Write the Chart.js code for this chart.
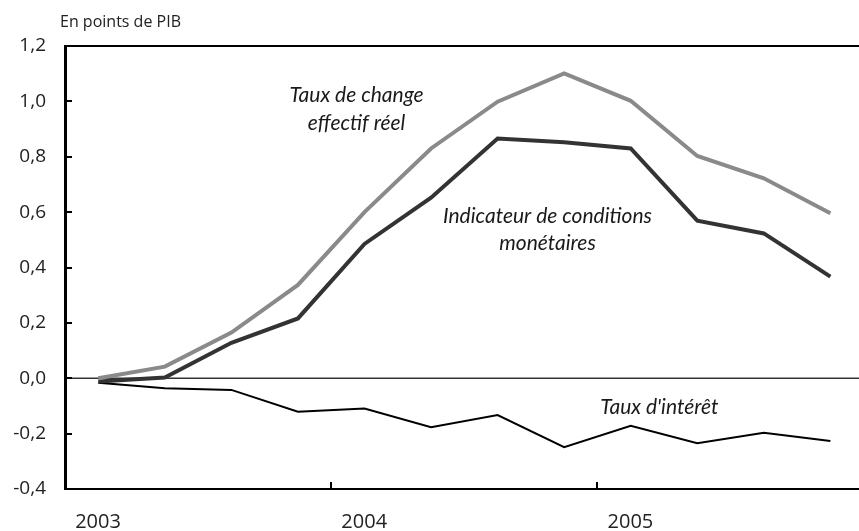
<!DOCTYPE html>
<html>
<head>
<meta charset="utf-8">
<script src="https://cdn.jsdelivr.net/npm/chart.js@4/dist/chart.umd.min.js"></script>
<style>
  html, body { margin: 0; padding: 0; background: #fff; }
  #wrap { width: 859px; height: 531px; position: relative; }
</style>
</head>
<body>
<div id="wrap"><canvas id="c" width="859" height="531"></canvas></div>
<script>
// ---- Data ----
const categories = ['2003 T1','2003 T2','2003 T3','2003 T4',
                    '2004 T1','2004 T2','2004 T3','2004 T4',
                    '2005 T1','2005 T2','2005 T3','2005 T4'];
const yearLabels = ['2003','2004','2005'];
const tauxDeChange = [0.00, 0.042, 0.165, 0.337, 0.600, 0.830, 0.999, 1.101, 1.002, 0.803, 0.722, 0.596];
const icm          = [-0.012, 0.003, 0.128, 0.216, 0.485, 0.652, 0.866, 0.852, 0.830, 0.569, 0.523, 0.367];
const tauxInteret  = [-0.016, -0.036, -0.042, -0.121, -0.109, -0.177, -0.133, -0.249, -0.172, -0.235, -0.197, -0.227];
const yTickValues  = [-0.4, -0.2, 0.0, 0.2, 0.4, 0.6, 0.8, 1.0, 1.2];
const unitLabel = 'En points de PIB';
const annotations = [
  { lines: ['Taux de change', 'effectif réel'], x: 3.88, y: [1.023, 0.922] },
  { lines: ['Indicateur de conditions', 'monétaires'], x: 6.75, y: [0.586, 0.489] },
  { lines: ["Taux d'intérêt"], x: 8.43, y: [-0.104] }
];

// year boundaries (before first quarter of each year) on the index axis
const yearTickValues = categories
  .map((c, i) => c.endsWith('T1') ? i - 0.5 : null)
  .filter(v => v !== null);

const toPoints = arr => arr.map((v, i) => ({ x: i, y: v }));

const decorPlugin = {
  id: 'decor',
  beforeDatasetsDraw(chart) {
    const { ctx, chartArea, scales } = chart;
    const y0 = scales.y.getPixelForValue(0);
    ctx.save();
    ctx.strokeStyle = '#333';
    ctx.lineWidth = 1.5;
    ctx.beginPath();
    ctx.moveTo(chartArea.left, y0);
    ctx.lineTo(chartArea.right, y0);
    ctx.stroke();
    ctx.restore();
  },
  afterDraw(chart) {
    const { ctx, chartArea, scales } = chart;
    ctx.save();
    // top frame line
    ctx.strokeStyle = '#000';
    ctx.lineWidth = 2;
    const yt = scales.y.getPixelForValue(scales.y.max);
    ctx.beginPath();
    ctx.moveTo(chartArea.left, yt);
    ctx.lineTo(chartArea.right, yt);
    ctx.stroke();
    // y tick marks (inside)
    yTickValues.forEach(v => {
      const py = Math.round(scales.y.getPixelForValue(v));
      ctx.beginPath();
      ctx.moveTo(chartArea.left, py);
      ctx.lineTo(chartArea.left + 7, py);
      ctx.stroke();
    });
    // x tick marks (inside, upward)
    yearTickValues.forEach(v => {
      if (v <= scales.x.min) return;
      const px = Math.round(scales.x.getPixelForValue(v));
      ctx.beginPath();
      ctx.moveTo(px, chartArea.bottom);
      ctx.lineTo(px, chartArea.bottom - 7);
      ctx.stroke();
    });
    // unit label
    ctx.fillStyle = '#222';
    ctx.font = '16px "Open Sans"';
    ctx.textAlign = 'left';
    ctx.textBaseline = 'alphabetic';
    ctx.fillText(unitLabel, 60, 27);
    // annotations
    ctx.font = 'italic 21px Lato';
    ctx.textAlign = 'center';
    ctx.textBaseline = 'middle';
    ctx.fillStyle = '#1a1a1a';
    annotations.forEach(a => {
      const px = scales.x.getPixelForValue(a.x);
      a.lines.forEach((t, i) => {
        ctx.fillText(t, px, scales.y.getPixelForValue(a.y[i]));
      });
    });
    ctx.restore();
  }
};

new Chart(document.getElementById('c'), {
  type: 'line',
  data: {
    datasets: [
      { label: 'Taux de change effectif réel', data: toPoints(tauxDeChange),
        borderColor: '#8a8a8a', borderWidth: 4, pointRadius: 0, tension: 0, fill: false },
      { label: 'Indicateur de conditions monétaires', data: toPoints(icm),
        borderColor: '#333333', borderWidth: 4, pointRadius: 0, tension: 0, fill: false },
      { label: "Taux d'intérêt", data: toPoints(tauxInteret),
        borderColor: '#000000', borderWidth: 2, pointRadius: 0, tension: 0, fill: false }
    ]
  },
  options: {
    responsive: false,
    animation: false,
    events: [],
    layout: { padding: { top: 46, right: 0, left: 0, bottom: 0 } },
    plugins: { legend: { display: false }, tooltip: { enabled: false }, title: { display: false } },
    scales: {
      x: {
        type: 'linear',
        min: -0.5,
        max: 11.43,
        afterBuildTicks(s) { s.ticks = yearTickValues.map(v => ({ value: v })); },
        afterFit(s) { s.height = 42; },
        ticks: {
          autoSkip: false, maxRotation: 0, minRotation: 0,
          labelOffset: 33,
          padding: 21,
          color: '#222',
          font: { family: 'Open Sans', size: 20 },
          callback: (v, i) => yearLabels[i]
        },
        grid: { display: true, drawOnChartArea: false, drawTicks: false, color: 'rgba(0,0,0,0)' },
        border: { display: true, color: '#000', width: 2 }
      },
      y: {
        min: -0.4,
        max: 1.2,
        afterBuildTicks(s) { s.ticks = yTickValues.map(v => ({ value: v })); },
        afterFit(s) { s.width = 65; },
        ticks: {
          padding: 19,
          color: '#222',
          font: { family: 'Open Sans', size: 19 },
          callback: v => (Math.round(v * 10) / 10).toFixed(1).replace('.', ',')
        },
        grid: { display: true, drawOnChartArea: false, drawTicks: false, color: 'rgba(0,0,0,0)' },
        border: { display: true, color: '#000', width: 3 }
      }
    }
  },
  plugins: [decorPlugin]
});
</script>
</body>
</html>
